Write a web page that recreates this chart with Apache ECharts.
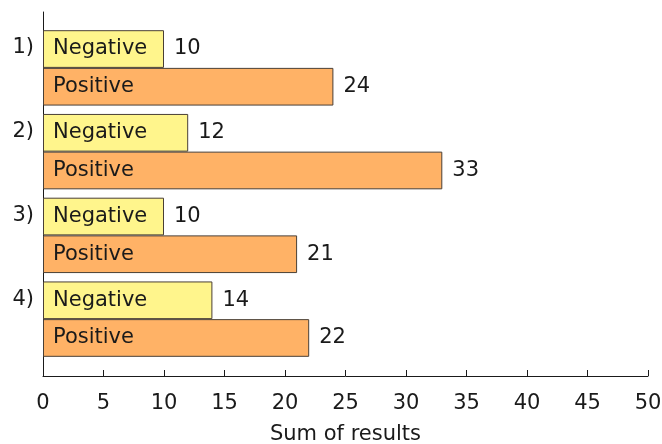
<!DOCTYPE html>
<html>
<head>
<meta charset="utf-8">
<script src="https://cdn.jsdelivr.net/npm/echarts@6/dist/echarts.min.js"></script>
<style>
  html, body { margin: 0; padding: 0; background: #ffffff; }
  #chart { width: 662px; height: 444px; }
</style>
</head>
<body>
<div id="chart"></div>
<script>
// Groups on the vertical axis, top to bottom
const categories = ['1)', '2)', '3)', '4)'];
// Sum of results per group
const negativeValues = [10, 12, 10, 14];
const positiveValues = [24, 33, 21, 22];
// Horizontal axis ticks
const xMin = 0;
const xMax = 50;
const xStep = 5;

const FONT = 'DejaVu Sans';
const INK = '#1a1a1a';
const EDGE = '#4a3f35';
const YELLOW = '#fff58c';
const ORANGE = '#ffb266';

const chart = echarts.init(document.getElementById('chart'), null, { renderer: 'canvas' });

function barSeries(name, values, color, yIndex, withName) {
  return {
    name: name,
    type: 'bar',
    xAxisIndex: 1,
    yAxisIndex: yIndex,
    data: values,
    barGap: '0%',
    barCategoryGap: '10%',
    silent: true,
    itemStyle: withName
      ? { color: color, borderColor: EDGE, borderWidth: 1 }
      : { color: 'rgba(0,0,0,0)', borderWidth: 0 },
    label: withName
      ? { show: true, position: 'insideLeft', distance: 10, formatter: name,
          color: INK, fontFamily: FONT, fontSize: 21 }
      : { show: true, position: 'right', distance: 10, formatter: '{c}',
          color: INK, fontFamily: FONT, fontSize: 21 },
    z: withName ? 2 : 3
  };
}

const option = {
  animation: false,
  backgroundColor: '#ffffff',
  grid: [
    { left: 43, right: 14, top: 12, bottom: 68, outerBoundsMode: 'none', containLabel: false },
    { left: 43, right: 14, top: 26, bottom: 83, outerBoundsMode: 'none', containLabel: false }
  ],
  xAxis: [
    {
      gridIndex: 0, type: 'value', min: xMin, max: xMax, interval: xStep,
      name: 'Sum of results', nameLocation: 'middle', nameGap: 48,
      nameTextStyle: { color: INK, fontFamily: FONT, fontSize: 21 },
      axisLine: { show: true, lineStyle: { color: INK, width: 1 } },
      axisTick: { show: true, inside: true, length: 6, lineStyle: { color: INK } },
      axisLabel: { color: INK, fontFamily: FONT, fontSize: 21, margin: 17 },
      splitLine: { show: false }
    },
    {
      gridIndex: 1, type: 'value', min: xMin, max: xMax, show: false
    }
  ],
  yAxis: [
    {
      gridIndex: 0, type: 'value', min: 0, max: 1,
      axisLine: { show: true, onZero: false, lineStyle: { color: INK, width: 1 } },
      axisTick: { show: false }, axisLabel: { show: false }, splitLine: { show: false }
    },
    {
      // group labels sit level with the upper (Negative) bar of each group
      gridIndex: 1, type: 'category', inverse: true, data: categories,
      axisLine: { show: false }, axisTick: { show: false }, splitLine: { show: false },
      axisLabel: { color: INK, fontFamily: FONT, fontSize: 21, margin: 9,
                   verticalAlign: 'bottom', lineHeight: 40 }
    },
    {
      gridIndex: 1, type: 'category', inverse: true, data: categories, show: false
    }
  ],
  series: [
    barSeries('Negative', negativeValues, YELLOW, 1, true),
    barSeries('Positive', positiveValues, ORANGE, 1, true),
    barSeries('Negative', negativeValues, YELLOW, 2, false),
    barSeries('Positive', positiveValues, ORANGE, 2, false)
  ]
};

chart.setOption(option);
</script>
</body>
</html>
